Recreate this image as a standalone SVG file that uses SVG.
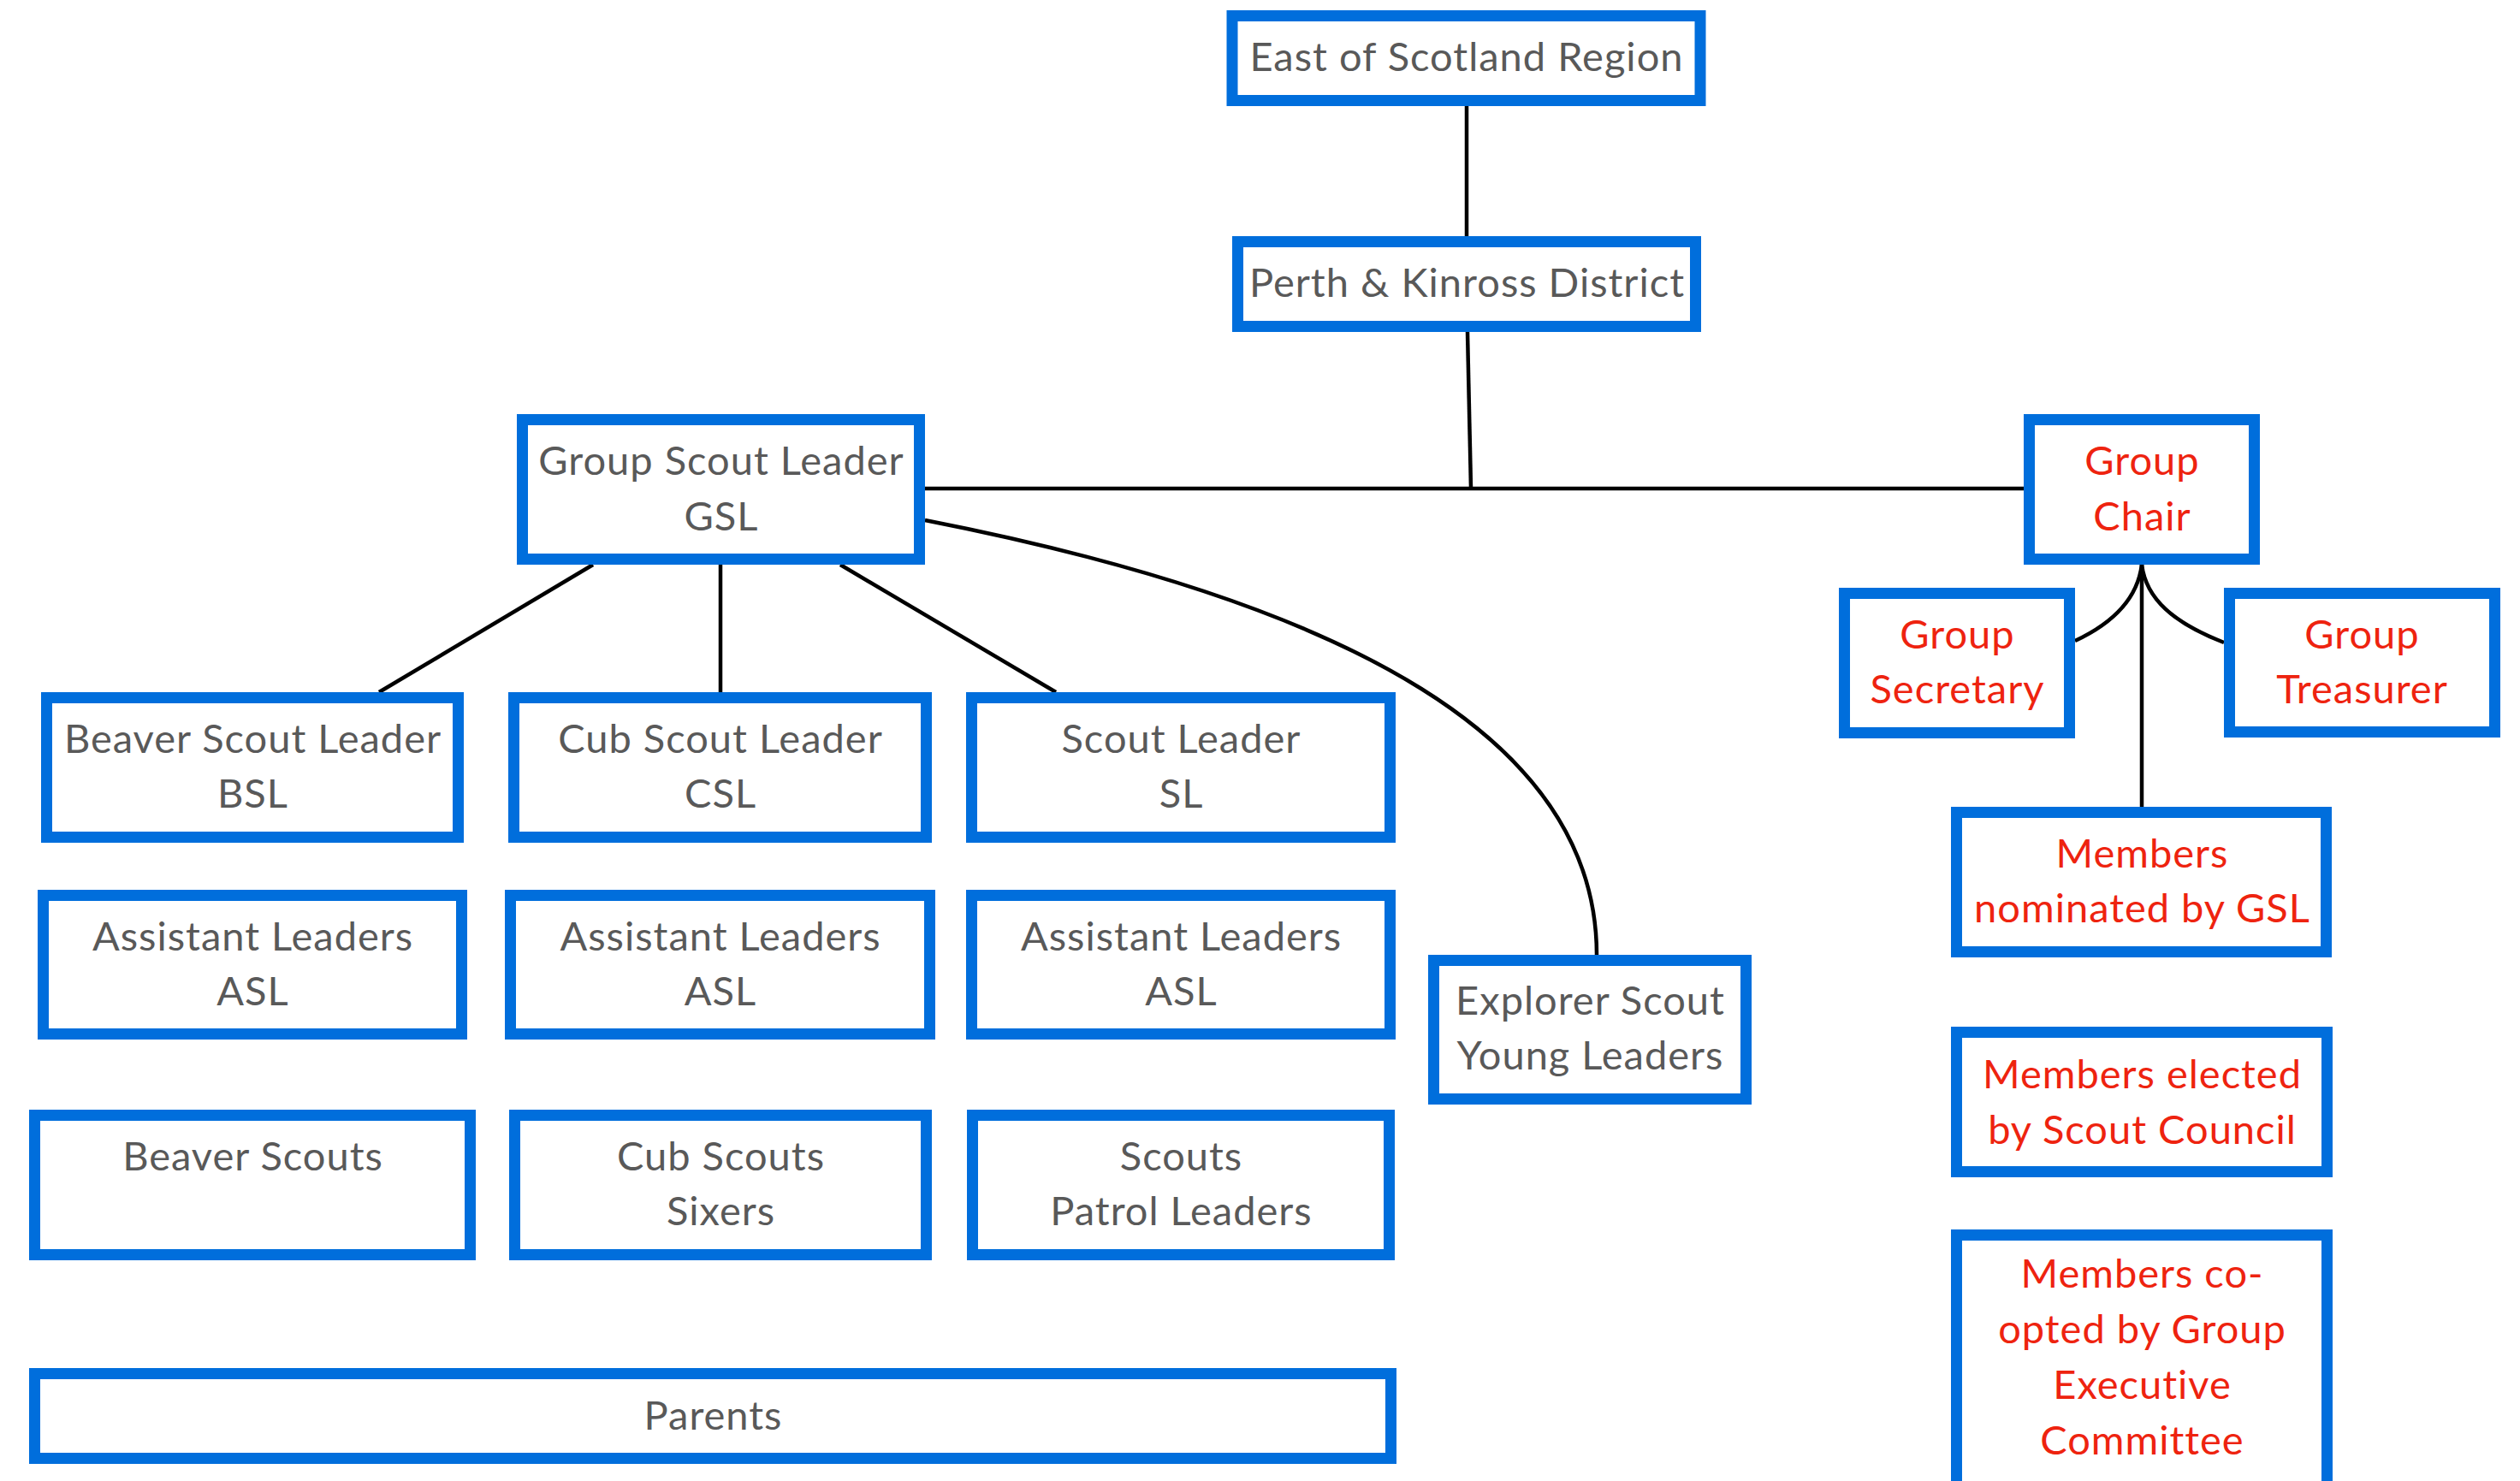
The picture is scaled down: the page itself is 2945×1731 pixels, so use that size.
<svg xmlns="http://www.w3.org/2000/svg" width="2945" height="1731" viewBox="0 0 2945 1731">
<style>
.box{fill:#ffffff;stroke:#006EDC;stroke-width:13}
.t{font-family:Lato,"Open Sans","Liberation Sans",sans-serif;font-size:47px;letter-spacing:1px;text-anchor:middle;fill:#595959}
.r{fill:#EE230F}
.c{fill:none;stroke:#000000;stroke-width:4.5}
</style>
<rect width="2945" height="1731" fill="#ffffff"/>
<g id="connectors">
<path class="c" d="M1714 124 V276"/>
<path class="c" d="M1715 388 L1719 571"/>
<path class="c" d="M1081 571 H2365"/>
<path class="c" d="M693 660 L443 809"/>
<path class="c" d="M842 660 V809"/>
<path class="c" d="M982 660 L1234 809"/>
<path class="c" d="M1081 608 C1581 706 1866 866 1866 1116"/>
<path class="c" d="M2503 660 V943"/>
<path class="c" d="M2503 660 C2498 700 2470 728 2425 749"/>
<path class="c" d="M2503 660 C2508 700 2540 728 2599 751"/>
</g>
<g id="east"><rect class="box" x="1440" y="18.5" width="547" height="99"/><text class="t" x="1714" y="83">East of Scotland Region</text></g>
<g id="perth"><rect class="box" x="1446.5" y="282.5" width="535" height="99"/><text class="t" x="1714.5" y="347">Perth &amp; Kinross District</text></g>
<g id="gsl"><rect class="box" x="610.5" y="490.5" width="464" height="163"/><text class="t" x="843" y="555">Group Scout Leader</text><text class="t" x="843" y="619.5">GSL</text></g>
<g id="chair"><rect class="box" x="2371.5" y="490.5" width="263" height="163"/><text class="t r" x="2503.5" y="555">Group</text><text class="t r" x="2503.5" y="619.5">Chair</text></g>
<g id="bsl"><rect class="box" x="54.5" y="815.5" width="481" height="163"/><text class="t" x="295.5" y="880">Beaver Scout Leader</text><text class="t" x="295.5" y="944">BSL</text></g>
<g id="csl"><rect class="box" x="600.5" y="815.5" width="482" height="163"/><text class="t" x="842" y="880">Cub Scout Leader</text><text class="t" x="842" y="944">CSL</text></g>
<g id="sl"><rect class="box" x="1135.5" y="815.5" width="489" height="163"/><text class="t" x="1380.5" y="880">Scout Leader</text><text class="t" x="1380.5" y="944">SL</text></g>
<g id="asl1"><rect class="box" x="50.5" y="1046.5" width="489" height="162"/><text class="t" x="295.5" y="1111">Assistant Leaders</text><text class="t" x="295.5" y="1175">ASL</text></g>
<g id="asl2"><rect class="box" x="596.5" y="1046.5" width="490" height="162"/><text class="t" x="842" y="1111">Assistant Leaders</text><text class="t" x="842" y="1175">ASL</text></g>
<g id="asl3"><rect class="box" x="1135.5" y="1046.5" width="489" height="162"/><text class="t" x="1380.5" y="1111">Assistant Leaders</text><text class="t" x="1380.5" y="1175">ASL</text></g>
<g id="beaver"><rect class="box" x="40.5" y="1303.5" width="509" height="163"/><text class="t" x="295.5" y="1368">Beaver Scouts</text></g>
<g id="cub"><rect class="box" x="601.5" y="1303.5" width="481" height="163"/><text class="t" x="842.5" y="1368">Cub Scouts</text><text class="t" x="842.5" y="1432">Sixers</text></g>
<g id="scouts"><rect class="box" x="1136.5" y="1303.5" width="487" height="163"/><text class="t" x="1380.5" y="1368">Scouts</text><text class="t" x="1380.5" y="1432">Patrol Leaders</text></g>
<g id="parents"><rect class="box" x="40.5" y="1605.5" width="1585" height="99"/><text class="t" x="833.5" y="1671">Parents</text></g>
<g id="explorer"><rect class="box" x="1675.5" y="1122.5" width="365" height="162"/><text class="t" x="1858.5" y="1186">Explorer Scout</text><text class="t" x="1858.5" y="1250">Young Leaders</text></g>
<g id="secretary"><rect class="box" x="2155.5" y="693.5" width="263" height="163"/><text class="t r" x="2287.5" y="758">Group</text><text class="t r" x="2287.5" y="822">Secretary</text></g>
<g id="treasurer"><rect class="box" x="2605.5" y="693.5" width="310" height="162"/><text class="t r" x="2760.5" y="758">Group</text><text class="t r" x="2760.5" y="822">Treasurer</text></g>
<g id="nominated"><rect class="box" x="2286.5" y="949.5" width="432" height="163"/><text class="t r" x="2503.5" y="1014">Members</text><text class="t r" x="2503.5" y="1078">nominated by GSL</text></g>
<g id="elected"><rect class="box" x="2286.5" y="1206.5" width="433" height="163"/><text class="t r" x="2503.5" y="1272">Members elected</text><text class="t r" x="2503.5" y="1337">by Scout Council</text></g>
<g id="coopted"><rect class="box" x="2286.5" y="1443.5" width="433" height="300"/><text class="t r" x="2503.5" y="1505">Members co-</text><text class="t r" x="2503.5" y="1570">opted by Group</text><text class="t r" x="2503.5" y="1635">Executive</text><text class="t r" x="2503.5" y="1700">Committee</text></g>
</svg>
